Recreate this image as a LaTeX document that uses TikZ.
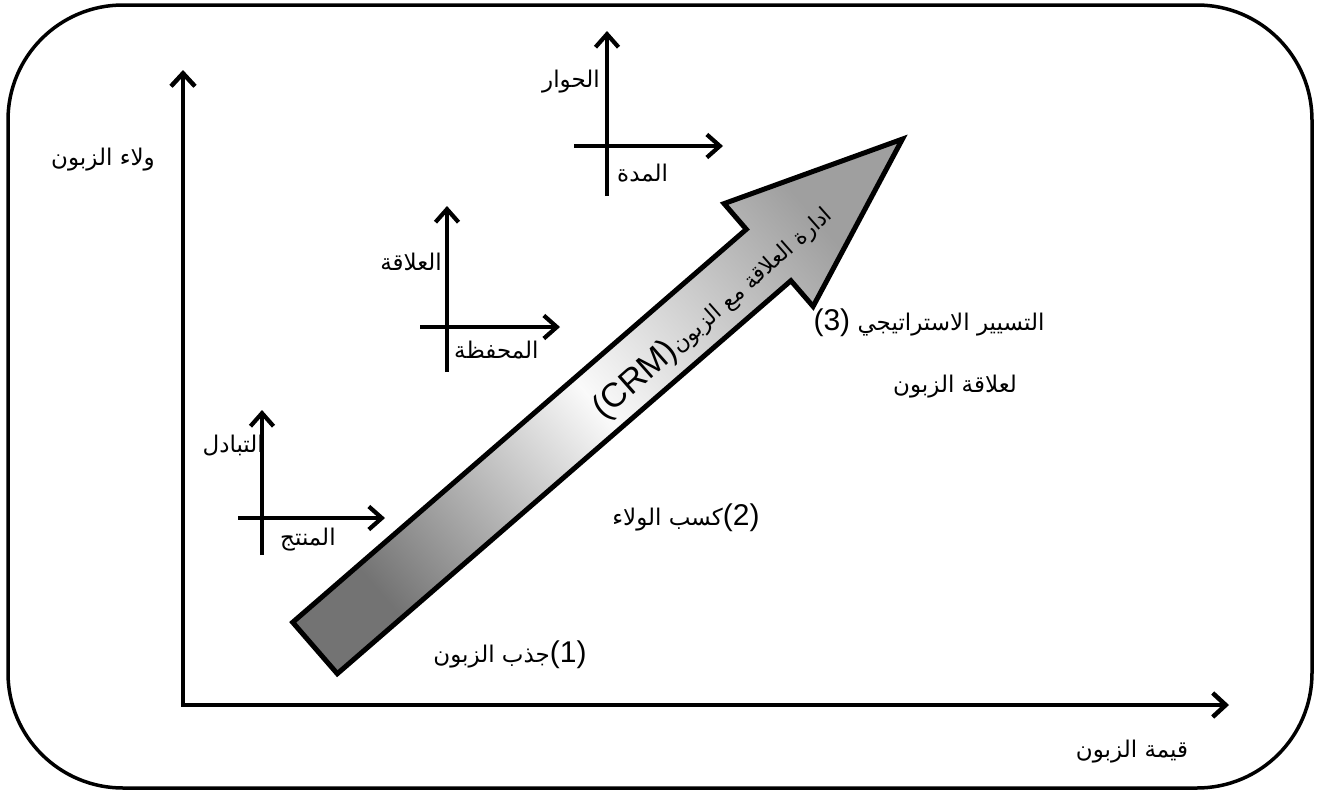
\documentclass[tikz,border=0pt]{standalone}
\usepackage{fontspec}
\TeXXeTstate=1
\newfontfamily\arabicfont[Script=Arabic]{DejaVu Sans}
\newfontfamily\latinsans{Liberation Sans}
\usetikzlibrary{arrows.meta}
\begin{document}
\begin{tikzpicture}[x=1pt,y=-1pt,
  frame/.style={line width=3.5pt, rounded corners=115pt},
  mainaxis/.style={line width=4.5pt, -{Straight Barb[length=13pt,width=24pt]}},
  smallaxis/.style={line width=4.2pt, -{Straight Barb[length=13pt,width=23pt]}},
  arlabel/.style={inner sep=0pt, font=\arabicfont\fontsize{23}{27}\selectfont},
  bigarrow/.style={line width=5pt, line join=miter, top color=gray!75, bottom color=gray!90!black, middle color=gray!4, shading angle=-49.1}
]
\useasboundingbox (0,0) rectangle (1318,796);
\fill[white] (0,0) rectangle (1318,796);
% frame
\coordinate (fA) at (8,5);
\coordinate (fB) at (1312,788);
\draw[frame] (fA) rectangle (fB);

% main axes
\coordinate (O) at (183,705);
\coordinate (Ytip) at (183,70);
\coordinate (Xtip) at (1229,705);
\draw[mainaxis] (O) -- (Ytip);
\draw[mainaxis] ([xshift=-2.25pt]O) -- (Xtip);

% small axes 1 (top)
\coordinate (s1b) at (607,196);
\coordinate (s1t) at (607,31);
\coordinate (s1l) at (574,146);
\coordinate (s1r) at (723,146);
\draw[smallaxis] (s1b) -- (s1t);
\draw[smallaxis] (s1l) -- (s1r);
% small axes 2 (middle)
\coordinate (s2b) at (447,372);
\coordinate (s2t) at (447,206);
\coordinate (s2l) at (420,327);
\coordinate (s2r) at (560,327);
\draw[smallaxis] (s2b) -- (s2t);
\draw[smallaxis] (s2l) -- (s2r);
% small axes 3 (lower)
\coordinate (s3b) at (262,555);
\coordinate (s3t) at (262,410);
\coordinate (s3l) at (238,518);
\coordinate (s3r) at (385,518);
\draw[smallaxis] (s3b) -- (s3t);
\draw[smallaxis] (s3l) -- (s3r);

% big arrow
\draw[bigarrow] (292.7,622.3) -- (746.3,229.3) -- (724.1,203.6) -- (902.4,139.1)
  -- (813.1,306.4) -- (790.9,280.7) -- (337.3,673.7) -- cycle;
\node[inner sep=0pt, rotate=41.5, font=\arabicfont\fontsize{22}{26}\selectfont] (crm) at (713,312)
  {\beginR ادارة العلاقة مع الزبون\beginL{\latinsans\fontsize{34}{38}\selectfont(CRM)}\endL\endR};

% labels
\node[arlabel] (ylab) at (103,160) {\beginR ولاء الزبون\endR};
\node[arlabel] (xlab) at (1132,752) {\beginR قيمة الزبون\endR};
\node[arlabel, anchor=east] (hiwar) at (600,82) {\beginR الحوار\endR};
\node[arlabel, anchor=west] (mudda) at (617,173) {\beginR المدة\endR};
\node[arlabel, anchor=east] (alaqa) at (442,262) {\beginR العلاقة\endR};
\node[arlabel, anchor=west] (muhafaza) at (454,350) {\beginR المحفظة\endR};
\node[arlabel, anchor=east] (tabadul) at (264,446) {\beginR التبادل\endR};
\node[arlabel, anchor=west] (muntaj) at (280,540) {\beginR المنتج\endR};

\node[arlabel] (st1) at (510,655) {\beginR\beginL{\latinsans\fontsize{30}{34}\selectfont(1)}\endL جذب الزبون\endR};
\node[arlabel] (st2) at (686,518) {\beginR\beginL{\latinsans\fontsize{30}{34}\selectfont(2)}\endL كسب الولاء\endR};
\node[arlabel] (st3) at (929,323) {{\latinsans\fontsize{30}{34}\selectfont(3)} \beginR التسيير الاستراتيجي\endR};
\node[arlabel] (st3b) at (955,387) {\beginR لعلاقة الزبون\endR};
\end{tikzpicture}
\end{document}
